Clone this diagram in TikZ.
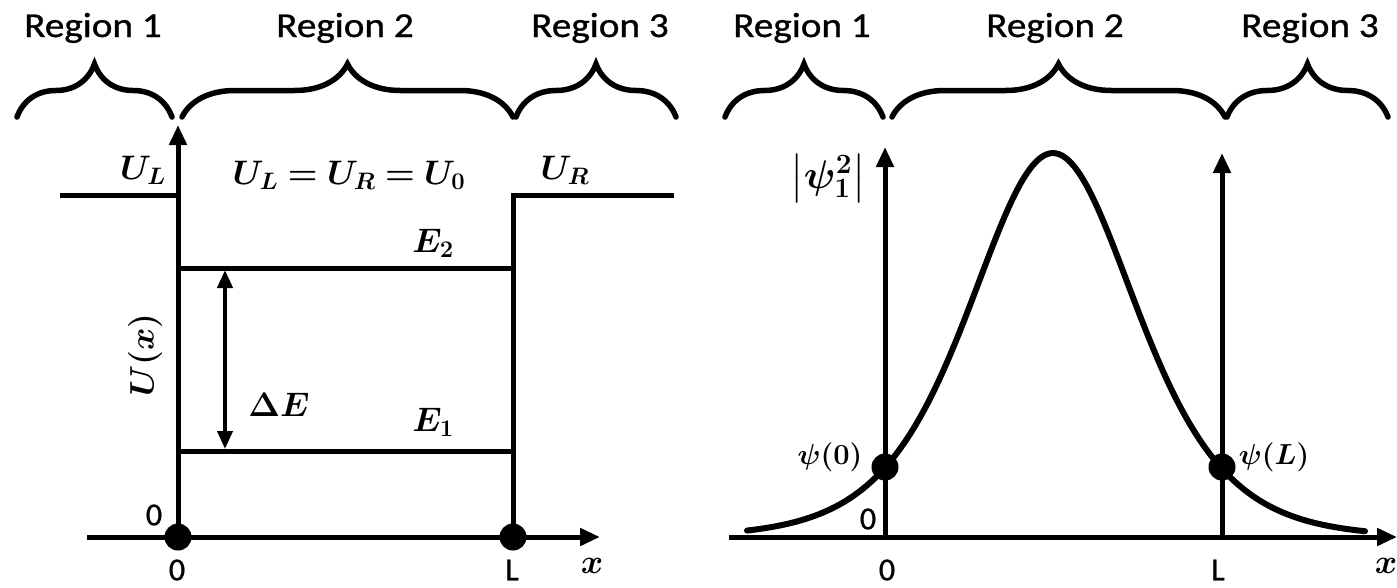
\RequirePackage{fix-cm}
\documentclass[tikz,border=0pt]{standalone}
\usepackage{amsmath,amssymb,bm}
\usepackage{fontspec}
\setsansfont{Carlito}
\newfontfamily\regionfont{Carlito}[FakeBold=0.8]
\usetikzlibrary{arrows.meta,decorations.pathreplacing}

\begin{document}
\begin{tikzpicture}[
      x=1pt, y=-1pt,
      line/.style={line width=5pt},
      axis/.style={line width=5pt, -{Triangle[length=20pt, width=17pt]}},
      span/.style={line width=4pt, {Triangle[length=18pt, width=15pt]}-{Triangle[length=18pt, width=15pt]}},
      regbrace/.style={decorate, decoration={brace, amplitude=53pt}, line width=5.5pt, line cap=round},
      region/.style={font=\regionfont\fontsize{35}{40}\selectfont, anchor=base,
        xscale=1.12, transform shape},
      lab/.style={font=\fontsize{34}{40}\selectfont},
      small/.style={font=\fontsize{29}{34}\selectfont},
      tick/.style={font=\regionfont\fontsize{32}{36}\selectfont},
      dot/.style={circle, fill, inner sep=0pt, minimum size=27pt},
      curve/.style={line width=6pt, line cap=round}
    ]
    \useasboundingbox (0,0) rectangle (1397,587);

    % left panel: finite well
    \node[region] (ra1) at (93,37) {Region 1};
    \node[region] (ra2) at (345,37) {Region 2};
    \node[region] (ra3) at (600,37) {Region 3};
    \draw[regbrace] (17,117) -- (172,117);
    \draw[regbrace] (182,117) -- (513,117);
    \draw[regbrace] (516,117) -- (676,117);

    \coordinate (ao) at (178,537);
    \coordinate (atop) at (178,125);
    \coordinate (aul) at (60,195);
    \coordinate (awl) at (178,195);
    \coordinate (awr) at (513,195);
    \coordinate (aur) at (674,195);
    \coordinate (al) at (513,537);
    \coordinate (axs) at (87,537);
    \coordinate (axe) at (600,537);
    \coordinate (a2l) at (178,268);
    \coordinate (a2r) at (513,268);
    \coordinate (a1l) at (178,451);
    \coordinate (a1r) at (513,451);
    \coordinate (dtop) at (225,270);
    \coordinate (dbot) at (225,449);

    \draw[axis] (axs) -- (axe);
    \draw[axis] (ao) -- (atop);
    \draw[line] (aul) -- (awl);
    \draw[line] (al) -- (awr) -- (aur);
    \draw[line] (a2l) -- (a2r);
    \draw[line] (a1l) -- (a1r);
    \draw[span] (dtop) -- (dbot);
    \node[dot] (ado) at (ao) {};
    \node[dot] (adl) at (al) {};

    \node[lab] (ul) at (143,170) {$\bm{U_L}$};
    \node[lab] (ueq) at (349,175) {$\bm{U_L = U_R = U_0}$};
    \node[lab] (ur) at (565,170) {$\bm{U_R}$};
    \node[lab] (e2) at (433,243) {$\bm{E_2}$};
    \node[lab] (e1) at (433,422) {$\bm{E_1}$};
    \node[lab] (de) at (279,405) {$\bm{\Delta E}$};
    \node[lab, rotate=90] (ux) at (145,355) {$\bm{U(x)}$};
    \node[tick] (az) at (154,515) {0};
    \node[tick] (azb) at (177,570) {0};
    \node[tick] (alb) at (512,570) {L};
    \node[lab] (ax) at (592,566) {$\bm{x}$};

    % right panel: probability density
    \node[region] (rb1) at (802,37) {Region 1};
    \node[region] (rb2) at (1055,37) {Region 2};
    \node[region] (rb3) at (1310,37) {Region 3};
    \draw[regbrace] (725,117) -- (883,117);
    \draw[regbrace] (892,117) -- (1225,117);
    \draw[regbrace] (1227,117) -- (1388,117);

    \coordinate (bo) at (885,537);
    \coordinate (btop) at (885,147);
    \coordinate (bl) at (1222,537);
    \coordinate (bltop) at (1222,153);
    \coordinate (bxs) at (729,537);
    \coordinate (bxe) at (1397,537);

    \draw[axis] (bxs) -- (bxe);
    \draw[axis] (bo) -- (btop);
    \draw[axis] (bl) -- (bltop);
    \draw[curve] plot[domain=747:1365, samples=120, smooth]
      (\x, {537-384/(cosh((\x-1053)/112))^2});
    \node[dot] (bpo) at (885,467) {};
    \node[dot] (bpl) at (1222,467) {};

    \node[font=\fontsize{40}{44}\selectfont] (psi) at (828,178)
      {$\left|\bm{\psi}_{\bm{1}}^{\bm{2}}\right|$};
    \node[small] (p0) at (830,457) {$\bm{\psi(0)}$};
    \node[small] (pl) at (1274,457) {$\bm{\psi(L)}$};
    \node[tick] (bz) at (868,519) {0};
    \node[tick] (bzb) at (887,570) {0};
    \node[tick] (blb) at (1218,570) {L};
    \node[lab] (bx) at (1386,566) {$\bm{x}$};
  \end{tikzpicture}
\end{document}
